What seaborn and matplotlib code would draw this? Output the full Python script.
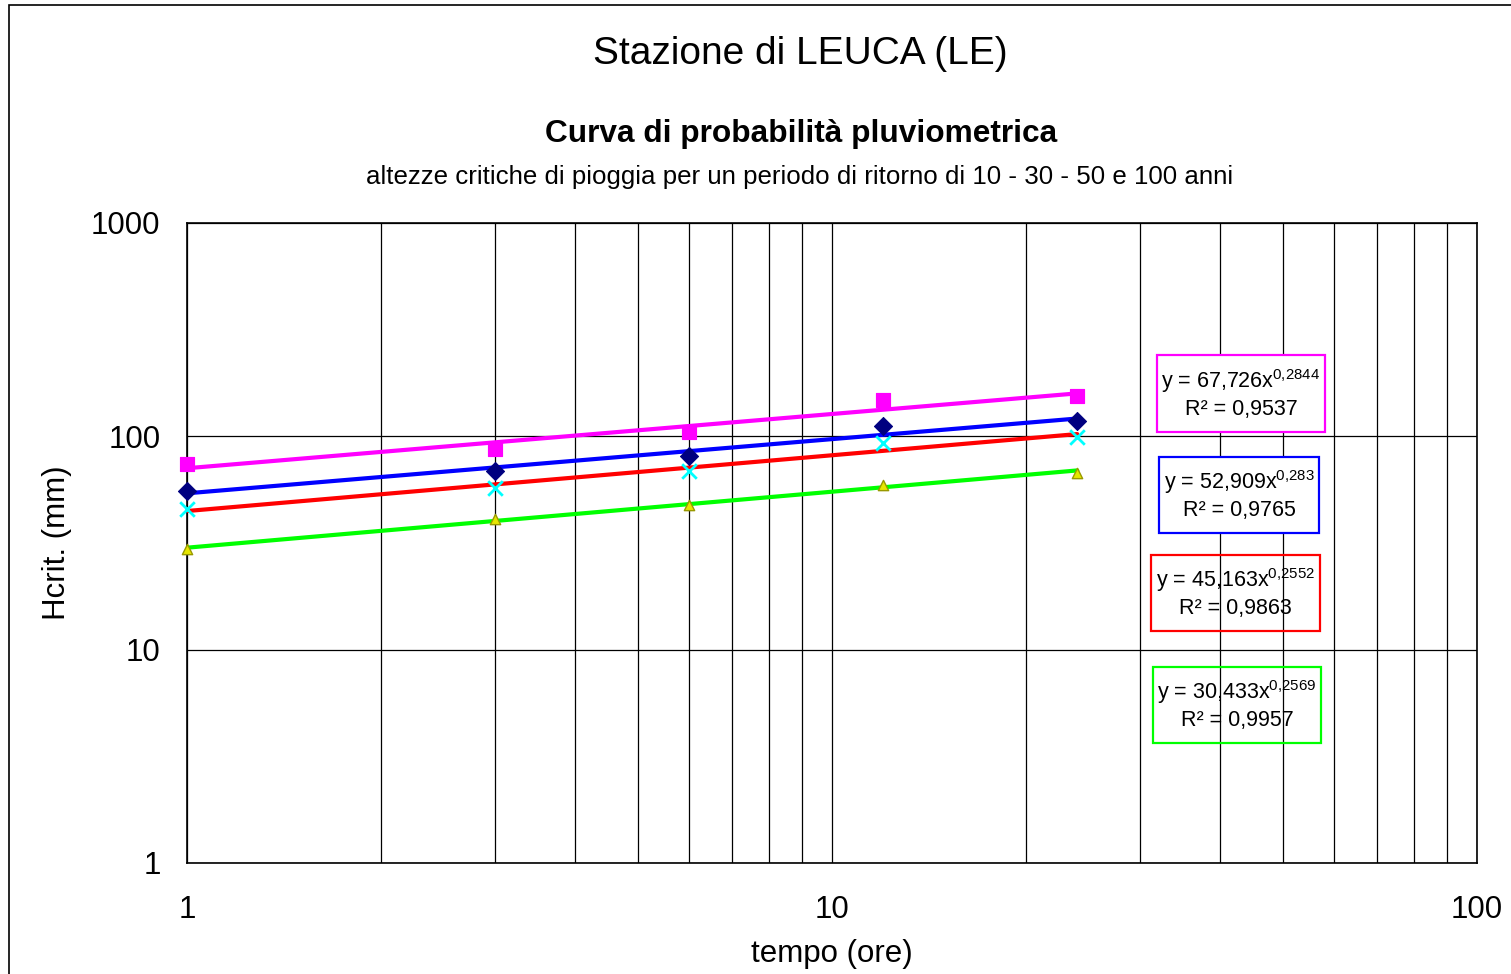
import numpy as np
import pandas as pd
import matplotlib
matplotlib.use("Agg")
import matplotlib.pyplot as plt
from matplotlib.patches import Rectangle
from matplotlib.ticker import FixedLocator, NullFormatter, NullLocator
import seaborn as sns

# durations (hours) and critical rainfall heights (mm)
durata = [1, 3, 6, 12, 24]
h_100 = [74.5, 87.3, 105.0, 148.6, 155.0]
h_50 = [55.6, 68.6, 81.2, 111.4, 117.6]
h_30 = [45.7, 57.3, 68.6, 93.1, 99.3]
h_10 = [29.5, 41.0, 47.9, 59.4, 67.3]

# equations printed on the chart
eq_a = ["67,726", "52,909", "45,163", "30,433"]
eq_b = ["0{,}2844", "0{,}283", "0{,}2552", "0{,}2569"]
eq_r2 = ["0,9537", "0,9765", "0,9863", "0,9957"]

sns.set_style("white")
plt.rcParams["font.family"] = ["Liberation Sans", "DejaVu Sans"]
plt.rcParams["mathtext.fontset"] = "custom"
plt.rcParams["mathtext.rm"] = "Liberation Sans"
plt.rcParams["mathtext.it"] = "Liberation Sans"
for k in ["text.color", "axes.labelcolor", "xtick.color", "ytick.color"]:
    plt.rcParams[k] = "black"

W, H = 1511, 974
fig = plt.figure(figsize=(W / 100, H / 100), dpi=100)
ax = fig.add_axes([187 / W, 111 / H, 1290 / W, 640 / H])

series = ["100", "50", "30", "10"]
line_cols = ["#FF00FF", "#0000FF", "#FF0000", "#00FF00"]
values = [h_100, h_50, h_30, h_10]

# power trend lines, fitted on the points in log-log space
xs = np.geomspace(1, 24, 80)
rows = []
for s, v in zip(series, values):
    b, la = np.polyfit(np.log10(durata), np.log10(v), 1)
    for x in xs:
        rows.append({"x": x, "y": 10 ** la * x ** b, "serie": s})
trend = pd.DataFrame(rows)
sns.lineplot(data=trend, x="x", y="y", hue="serie", palette=line_cols,
             hue_order=series, linewidth=3, legend=False, ax=ax, zorder=3)

# observed points
pts = pd.DataFrame({
    "x": durata * 4,
    "y": h_100 + h_50 + h_30 + h_10,
    "serie": ["100"] * 5 + ["50"] * 5 + ["30"] * 5 + ["10"] * 5,
})
sns.scatterplot(data=pts[pts.serie == "100"], x="x", y="y", marker="s",
                color="#FF00FF", s=110, edgecolor="#FF00FF", ax=ax,
                zorder=4, clip_on=False)
sns.scatterplot(data=pts[pts.serie == "50"], x="x", y="y", marker="D",
                color="#000080", s=85, edgecolor="#000080", ax=ax,
                zorder=4, clip_on=False)
sns.scatterplot(data=pts[pts.serie == "30"], x="x", y="y", marker="x",
                color="#00FFFF", s=110, linewidth=2, ax=ax, zorder=4,
                clip_on=False)
sns.scatterplot(data=pts[pts.serie == "10"], x="x", y="y", marker="^",
                color="#E6E600", s=55, edgecolor="#999900", linewidth=1,
                ax=ax, zorder=4, clip_on=False)

ax.set_xscale("log")
ax.set_yscale("log")
ax.set_xlim(1, 100)
ax.set_ylim(1, 1000)

ax.xaxis.set_major_locator(FixedLocator([1, 10, 100]))
ax.xaxis.set_minor_locator(FixedLocator([2, 3, 4, 5, 6, 7, 8, 9,
                                         20, 30, 40, 50, 60, 70, 80, 90]))
ax.xaxis.set_minor_formatter(NullFormatter())
ax.set_xticklabels(["1", "10", "100"])
ax.yaxis.set_major_locator(FixedLocator([1, 10, 100, 1000]))
ax.yaxis.set_minor_locator(NullLocator())
ax.set_yticklabels(["1", "10", "100", "1000"])

ax.grid(which="major", axis="both", color="black", linewidth=0.9)
ax.grid(which="minor", axis="x", color="black", linewidth=0.9)
ax.set_axisbelow(True)
for sp in ax.spines.values():
    sp.set_color("black")
    sp.set_linewidth(1.2)

ax.tick_params(axis="both", which="major", direction="out", length=6,
               width=1, color="black", labelsize=22.5)
ax.tick_params(axis="x", which="minor", length=0)
ax.tick_params(axis="x", pad=17)
ax.tick_params(axis="y", pad=13)

ax.set_xlabel("tempo (ore)", fontsize=22.5, labelpad=10)
ax.set_ylabel("Hcrit. (mm)", fontsize=22.5, labelpad=14)

# equation boxes (pixel rectangles: left, top, right, bottom)
boxes = [(1157, 355, 1325, 432), (1159, 457, 1319, 533),
         (1151, 555, 1320, 631), (1153, 667, 1321, 743)]
box_fill = ["white", "white", "none", "none"]
for i, (l, t, r, btm) in enumerate(boxes):
    fig.patches.append(Rectangle((l / W, 1 - btm / H), (r - l) / W,
                                 (btm - t) / H, transform=fig.transFigure,
                                 facecolor=box_fill[i],
                                 edgecolor=line_cols[i], linewidth=1.6,
                                 zorder=5))
    txt = ("y = " + eq_a[i] + "x$^{" + eq_b[i] + "}$\n"
           + "R² = " + eq_r2[i])
    fig.text((l + r) / 2 / W, 1 - (t + btm) / 2 / H, txt, fontsize=15.5,
             ha="center", va="center", linespacing=1.25, zorder=6)

fig.text(800 / W, 1 - 54 / H, "Stazione di LEUCA (LE)", fontsize=28,
         ha="center", va="center")
fig.text(801 / W, 1 - 134 / H, "Curva di probabilità pluviometrica",
         fontsize=22.8, fontweight="bold", ha="center", va="center")
fig.text(800 / W, 1 - 177 / H,
         "altezze critiche di pioggia per un periodo di ritorno di 10 - 30 - 50 e 100 anni",
         fontsize=18.6, ha="center", va="center")

# outer chart frame
fig.patches.append(Rectangle((9 / W, -0.1), 1.2, 1 - 5 / H + 0.1,
                             transform=fig.transFigure, fill=False,
                             edgecolor="black", linewidth=1.2))

fig.savefig("out.png", dpi=100)
